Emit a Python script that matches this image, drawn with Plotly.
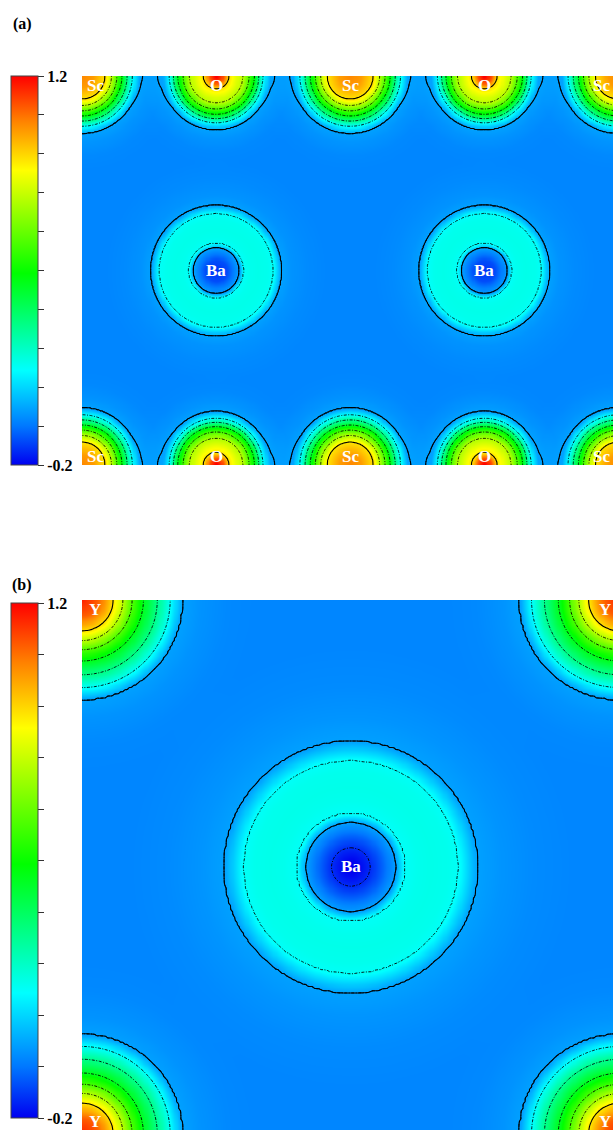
import numpy as np
import plotly.graph_objects as go

# ---------------- data ----------------
# colour bar
CBAR_MIN = -0.2
CBAR_MAX = 1.2
CBAR_TICKVALS = [-0.2, -0.06, 0.08, 0.22, 0.36, 0.5, 0.64, 0.78, 0.92, 1.06, 1.2]
CBAR_TICKTEXT = ["-0.2", "", "", "", "", "", "", "", "", "", "1.2"]
COLOR_STOP_VALUES = [-0.2, -0.06, 0.14, 0.49, 0.86, 1.04, 1.2]
COLOR_STOP_COLORS = ["rgb(0,0,240)", "rgb(0,120,255)", "rgb(0,255,255)",
                     "rgb(0,255,0)", "rgb(255,255,0)", "rgb(255,128,0)", "rgb(255,0,0)"]

# contour levels (solid / dash-dot)
SOLID_LEVELS = [0.0, 0.9]
DASHED_LEVELS = [-0.15, 0.15, 0.30, 0.45, 0.60, 0.75]
BACKGROUND = -0.04

# radial density profiles (r in lattice units, value)
SC_R = [0.0, 0.04, 0.086, 0.11, 0.13, 0.149, 0.168, 0.187, 0.213, 0.25, 0.30, 0.36]
SC_V = [1.03, 1.00, 0.90, 0.75, 0.60, 0.45, 0.30, 0.15, 0.0, -0.02, -0.035, -0.04]
O_R = [0.0, 0.025, 0.047, 0.10, 0.123, 0.143, 0.159, 0.174, 0.20, 0.235, 0.28, 0.34]
O_V = [1.22, 1.10, 0.90, 0.75, 0.60, 0.45, 0.30, 0.15, 0.0, -0.02, -0.035, -0.04]
BA_A_R = [0.0, 0.04, 0.086, 0.101, 0.125, 0.155, 0.19, 0.213, 0.243, 0.28, 0.34, 0.42]
BA_A_V = [-0.14, -0.11, 0.0, 0.15, 0.165, 0.17, 0.165, 0.15, 0.0, -0.02, -0.032, -0.04]
Y_R = [0.0, 0.03, 0.058, 0.076, 0.093, 0.114, 0.14, 0.164, 0.186, 0.22, 0.27, 0.33]
Y_V = [1.16, 1.08, 0.90, 0.75, 0.60, 0.45, 0.30, 0.15, 0.0, -0.02, -0.035, -0.04]
BA_B_R = [0.0, 0.036, 0.06, 0.084, 0.10, 0.125, 0.15, 0.18, 0.20, 0.235, 0.28, 0.34, 0.42]
BA_B_V = [-0.22, -0.15, -0.08, 0.0, 0.15, 0.165, 0.17, 0.165, 0.15, 0.0, -0.018, -0.032, -0.04]

# panel (a) atoms
A_LABELS = ["Sc", "O", "Sc", "O", "Sc", "Sc", "O", "Sc", "O", "Sc", "Ba", "Ba"]
A_X = [0.0, 0.5, 1.0, 1.5, 2.0, 0.0, 0.5, 1.0, 1.5, 2.0, 0.5, 1.5]
A_Y = [0.0, 0.0, 0.0, 0.0, 0.0, 1.45, 1.45, 1.45, 1.45, 1.45, 0.725, 0.725]
A_XRANGE = [0.0, 1.98]
A_YRANGE = [0.0, 1.45]

# panel (b) atoms
B_LABELS = ["Y", "Y", "Y", "Y", "Ba"]
B_X = [0.0, 1.0, 0.0, 1.0, 0.5]
B_Y = [0.0, 0.0, 1.0, 1.0, 0.5]
B_XRANGE = [0.0, 0.9875]
B_YRANGE = [0.0, 0.9925]

PANEL_TITLES = ["(a)", "(b)"]

# ---------------- build ----------------
PROFILES_A = {"Sc": (SC_R, SC_V), "O": (O_R, O_V), "Ba": (BA_A_R, BA_A_V)}
PROFILES_B = {"Y": (Y_R, Y_V), "Ba": (BA_B_R, BA_B_V)}

lo, hi = CBAR_MIN, CBAR_MAX
colorscale = [[(v - lo) / (hi - lo), c] for v, c in zip(COLOR_STOP_VALUES, COLOR_STOP_COLORS)]


def field(labels, xs_atoms, ys_atoms, profiles, xr, yr, step):
    xs = np.arange(xr[0] - step, xr[1] + 2 * step, step)
    ys = np.arange(yr[0] - step, yr[1] + 2 * step, step)
    X, Y = np.meshgrid(xs, ys)
    Z = np.full_like(X, BACKGROUND)
    for lab, ax, ay in zip(labels, xs_atoms, ys_atoms):
        R, V = profiles[lab]
        r = np.hypot(X - ax, Y - ay)
        Z += np.interp(r, R, V) - BACKGROUND
    return xs.astype(np.float32), ys.astype(np.float32), Z.astype(np.float32)


def level_spec(levels):
    lv = sorted(levels)
    size = min(np.diff(lv)) if len(lv) > 1 else 1.0
    return dict(start=lv[0], end=lv[-1] + size * 0.01, size=float(size))


W, H = 613, 1130
ML = 82
A_TOP, A_BOT = 76, 465
B_TOP, B_BOT = 600, 1130
CB_A = (76, 465)
CB_B = (603, 1118)

fig = go.Figure()
font_lab = "Liberation Serif, Times New Roman, serif"

panels = [
    (A_LABELS, A_X, A_Y, PROFILES_A, A_XRANGE, A_YRANGE, "x", "y", CB_A, -12),
    (B_LABELS, B_X, B_Y, PROFILES_B, B_XRANGE, B_YRANGE, "x2", "y2", CB_B, -8),
]

annotations = []
for (labels, ax_, ay_, prof, xr, yr, xa, ya, cb, right_shift) in panels:
    xs, ys, Z = field(labels, ax_, ay_, prof, xr, yr, 0.004)
    fig.add_trace(go.Heatmap(
        x=xs, y=ys, z=Z, zmin=CBAR_MIN, zmax=CBAR_MAX, colorscale=colorscale,
        zsmooth="best", xaxis=xa, yaxis=ya, hoverinfo="skip",
        colorbar=dict(
            xref="container", x=11 / W, xanchor="left", xpad=0,
            yref="container", y=(H - cb[0]) / H, yanchor="top", ypad=0,
            len=cb[1] - cb[0], lenmode="pixels", thickness=27, thicknessmode="pixels",
            outlinecolor="#444", outlinewidth=1,
            tickmode="array", tickvals=CBAR_TICKVALS, ticktext=CBAR_TICKTEXT,
            ticks="outside", ticklen=6, tickwidth=1, tickcolor="#333",
            tickfont=dict(family=font_lab, size=16, color="black", weight="bold"),
        ),
    ))
    fig.add_trace(go.Contour(
        x=xs, y=ys, z=Z, autocontour=False, contours=dict(coloring="none", **level_spec(DASHED_LEVELS)),
        line=dict(color="black", width=0.9, dash="3px,1.5px,1px,1.5px", smoothing=1),
        showscale=False, xaxis=xa, yaxis=ya, hoverinfo="skip",
    ))
    fig.add_trace(go.Contour(
        x=xs, y=ys, z=Z, autocontour=False, contours=dict(coloring="none", **level_spec(SOLID_LEVELS)),
        line=dict(color="black", width=1.1, smoothing=1),
        showscale=False, xaxis=xa, yaxis=ya, hoverinfo="skip",
    ))
    # atom labels (edge atoms: label pulled inside the frame)
    for lab, x0, y0 in zip(labels, ax_, ay_):
        xl = min(max(x0, xr[0]), xr[1])
        yl = min(max(y0, yr[0]), yr[1])
        xsft = 13 if x0 <= xr[0] else (right_shift if x0 >= xr[1] else 0)
        ysft = -10 if y0 <= yr[0] else (9 if y0 >= yr[1] else 0)
        annotations.append(dict(
            x=xl, y=yl, xref=xa, yref=ya, text=lab, showarrow=False,
            xshift=xsft, yshift=ysft,
            font=dict(family=font_lab, size=17, color="white", weight="bold"),
        ))

plot_w = W - ML
for title, py in zip(PANEL_TITLES, [24, 585]):
    annotations.append(dict(
        x=(22 - ML) / plot_w, y=(H - py) / H, xref="paper", yref="paper",
        text=title, showarrow=False, xanchor="center", yanchor="middle",
        font=dict(family=font_lab, size=16, color="black", weight="bold"),
    ))

axis_common = dict(visible=False, showgrid=False, zeroline=False)
fig.update_layout(
    width=W, height=H, margin=dict(l=ML, r=0, t=0, b=0),
    paper_bgcolor="white", plot_bgcolor="white", showlegend=False,
    xaxis=dict(domain=[0, 1], range=A_XRANGE, anchor="y", **axis_common),
    yaxis=dict(domain=[(H - A_BOT) / H, (H - A_TOP) / H], range=A_YRANGE[::-1], anchor="x", **axis_common),
    xaxis2=dict(domain=[0, 1], range=B_XRANGE, anchor="y2", **axis_common),
    yaxis2=dict(domain=[(H - B_BOT) / H, (H - B_TOP) / H], range=B_YRANGE[::-1], anchor="x2", **axis_common),
    annotations=annotations,
)

fig.write_html("out.html", config={"displayModeBar": False},
               post_script="document.body.style.margin='0px';document.body.style.overflow='hidden';")
